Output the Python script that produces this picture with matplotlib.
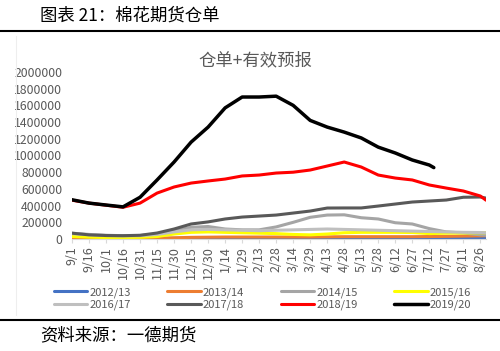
import numpy as np
import matplotlib
matplotlib.use("Agg")
import matplotlib.pyplot as plt

plt.rcParams['font.family'] = ['Noto Sans CJK SC', 'DejaVu Sans']

# tick dates (every 15th day of the season, 9/1 = day 0, leap year)
tick_labels = ['9/1', '9/16', '10/1', '10/16', '10/31', '11/15', '11/30', '12/15',
               '12/30', '1/14', '1/29', '2/13', '2/28', '3/14', '3/29', '4/13',
               '4/28', '5/13', '5/28', '6/12', '6/27', '7/12', '7/27', '8/11', '8/26']
days = [0, 15, 30, 45, 60, 75, 90, 105, 120, 135, 150, 165, 180, 195, 210,
        225, 240, 255, 270, 285, 300, 315, 330, 345, 360, 365]
nan = np.nan

seasons = ['2012/13', '2013/14', '2014/15', '2015/16',
           '2016/17', '2017/18', '2018/19', '2019/20']
colors = ['#4472C4', '#ED7D31', '#A5A5A5', '#FFFF00',
          '#BFBFBF', '#595959', '#FF0000', '#000000']

v2012 = [10000, 8000, 6000, 5000, 5000, 6000, 8000, 10000, 10000, 10000, 10000, 10000, 10000,
         10000, 10000, 12000, 12000, 12000, 12000, 12000, 12000, 15000, 15000, 15000, 15000, 15000]
v2013 = [15000, 12000, 10000, 8000, 8000, 10000, 15000, 20000, 22000, 24000, 24000, 24000, 24000,
         24000, 24000, 26000, 28000, 28000, 28000, 28000, 28000, 30000, 32000, 35000, 38000, 40000]
v2014 = [70000, 55000, 45000, 40000, 42000, 60000, 100000, 140000, 150000, 120000, 110000, 110000,
         145000, 200000, 260000, 287000, 290000, 255000, 240000, 195000, 180000, 125000, 85000,
         72000, 50000, 45000]
v2015 = [30000, 22000, 18000, 18000, 20000, 30000, 60000, 80000, 85000, 80000, 75000, 70000,
         65000, 55000, 50000, 60000, 75000, 80000, 80000, 80000, 78000, 65000, 70000, 72000,
         75000, 75000]
v2016 = [65000, 50000, 42000, 38000, 40000, 55000, 85000, 110000, 115000, 110000, 105000, 100000,
         105000, 110000, 115000, 120000, 115000, 110000, 105000, 100000, 95000, 90000, 85000,
         80000, 78000, 75000]
v2017 = [70000, 50000, 42000, 40000, 45000, 72000, 120000, 180000, 205000, 240000, 263000, 275000,
         287000, 311000, 335000, 371000, 372000, 372000, 395000, 419000, 443000, 455000, 467000,
         500000, 503000, 490000]
v2018 = [465000, 430000, 405000, 380000, 430000, 550000, 623000, 670000, 695000, 718000, 755000,
         766000, 790000, 800000, 826000, 874000, 922000, 862000, 766000, 730000, 707000, 647000,
         610000, 575000, 515000, 465000]
v2019 = [470000, 430000, 407000, 385000, 500000, 707000, 922000, 1160000, 1340000, 1570000,
         1700000, 1700000, 1710000, 1600000, 1420000, 1340000, 1280000, 1210000, 1100000, 1030000,
         946000, 886000, nan, nan, nan, nan]
end_day_2019 = 319
end_val_2019 = 855000

series = [v2012, v2013, v2014, v2015, v2016, v2017, v2018, v2019]
widths = [2.2, 2.2, 2.2, 2.2, 2.2, 2.2, 2.2, 2.5]

fig = plt.figure(figsize=(5.0, 3.51), dpi=100)
ax = fig.add_axes([0.144, 0.319, 0.828, 0.476])

handles = []
for name, col, vals, lw in zip(seasons, colors, series, widths):
    x = list(days)
    y = list(vals)
    if name == '2019/20':
        x = days[:22] + [end_day_2019]
        y = vals[:22] + [end_val_2019]
    h, = ax.plot(x, y, color=col, lw=lw, solid_capstyle='round', label=name)
    handles.append(h)

ax.set_xlim(0, 365)
ax.set_ylim(0, 2000000)
ax.set_yticks(np.arange(0, 2000001, 200000))
ax.set_yticklabels([str(v) for v in range(0, 2000001, 200000)])
ax.set_xticks(days[:25])
ax.set_xticklabels(tick_labels, rotation=90)
ax.tick_params(axis='y', length=0, labelsize=8.8, labelcolor='#595959', pad=7)
ax.tick_params(axis='x', length=3, color='#D9D9D9', labelsize=9, labelcolor='#595959', pad=2)
for s in ['top', 'right', 'left']:
    ax.spines[s].set_visible(False)
ax.spines['bottom'].set_color('#D9D9D9')

order = [0, 4, 1, 5, 2, 6, 3, 7]
leg = fig.legend([handles[i] for i in order], [seasons[i] for i in order], ncol=4,
                 loc='center', bbox_to_anchor=(0.525, 0.149), frameon=False,
                 fontsize=8, handlelength=3.0, columnspacing=3.3,
                 handletextpad=0.2, labelspacing=0.15, labelcolor='#595959')

fig.text(0.51, 0.829, '仓单+有效预报', ha='center', va='center', fontsize=12.5, color='#595959')
fig.text(0.08, 0.957, '图表 21：棉花期货仓单', ha='left', va='center', fontsize=12.5, color='black')
fig.text(0.08, 0.045, '资料来源：一德期货', ha='left', va='center', fontsize=12.5, color='black')

fig.add_artist(plt.Line2D([0, 1], [1 - 31 / 351, 1 - 31 / 351], color='black', lw=1.5))
fig.add_artist(plt.Line2D([0, 1], [1 - 320 / 351, 1 - 320 / 351], color='black', lw=1.5))
fig.add_artist(plt.Line2D([0.032, 0.032], [1 - 315 / 351, 1 - 36 / 351], color='#EEEEEE', lw=0.8))

fig.savefig('out.png', dpi=100)
